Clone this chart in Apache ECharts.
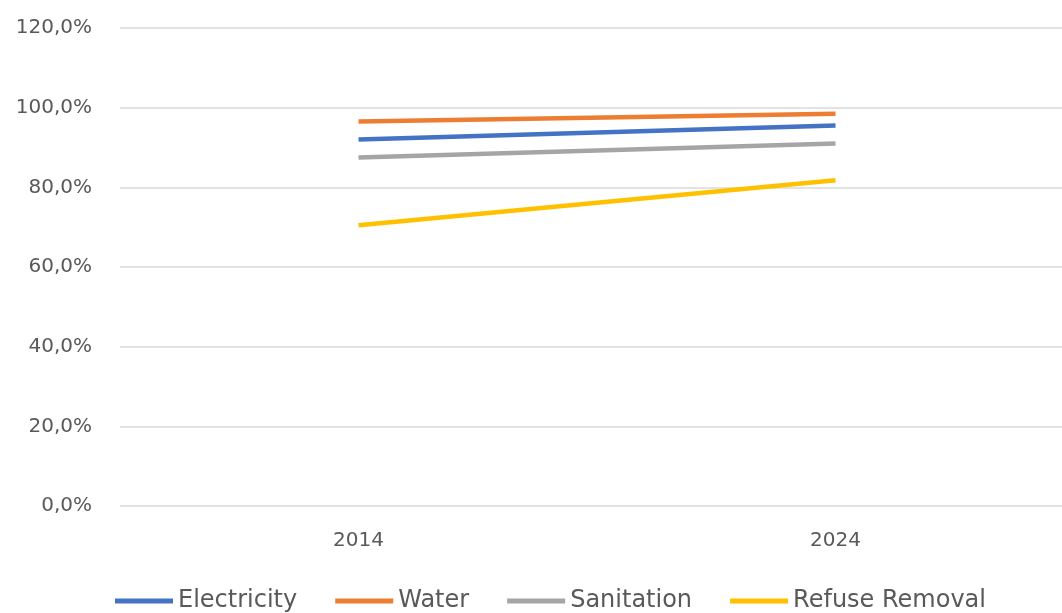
<!DOCTYPE html>
<html><head><meta charset="utf-8">
<script src="https://cdn.jsdelivr.net/npm/echarts@6/dist/echarts.min.js"></script>
<style>html,body{margin:0;padding:0;background:#fff}#c{width:1062px;height:613px}</style>
</head><body><div id="c"></div>
<script>
const categories = ['2014', '2024'];
const electricity = [92.0, 95.5];
const water = [96.5, 98.5];
const sanitation = [87.5, 91.0];
const refuseRemoval = [70.5, 81.8];
const seriesNames = ['Electricity', 'Water', 'Sanitation', 'Refuse Removal'];
const colors = ['#4472C4', '#ED7D31', '#A5A5A5', '#FFC000'];
const allData = [electricity, water, sanitation, refuseRemoval];

const chart = echarts.init(document.getElementById('c'));
chart.setOption({
  animation: false,
  backgroundColor: '#fff',
  grid: { left: 120, top: 28, width: 954, height: 478, outerBoundsMode: 'none', containLabel: false },
  xAxis: {
    type: 'category', data: categories, boundaryGap: true,
    axisLine: { show: false }, axisTick: { show: false },
    axisLabel: { color: '#595959', fontSize: 20, fontFamily: 'DejaVu Sans', margin: 25 }
  },
  yAxis: {
    type: 'value', min: 0, max: 120, interval: 20,
    axisLine: { show: false }, axisTick: { show: false },
    splitLine: { lineStyle: { color: '#d9d9d9', width: 1.5 } },
    axisLabel: {
      color: '#595959', fontSize: 20, fontFamily: 'DejaVu Sans', margin: 28,
      formatter: v => v.toFixed(1).replace('.', ',') + '%'
    }
  },
  legend: {
    top: 589, left: 115, padding: 0, itemGap: 38, itemWidth: 58, itemHeight: 5, icon: 'rect',
    textStyle: { color: '#595959', fontSize: 24, fontFamily: 'DejaVu Sans' },
    data: seriesNames
  },
  series: seriesNames.map((n, i) => ({
    name: n, type: 'line', data: allData[i], symbol: 'none',
    color: colors[i], lineStyle: { width: 4.5, color: colors[i] }
  }))
});
</script></body></html>
